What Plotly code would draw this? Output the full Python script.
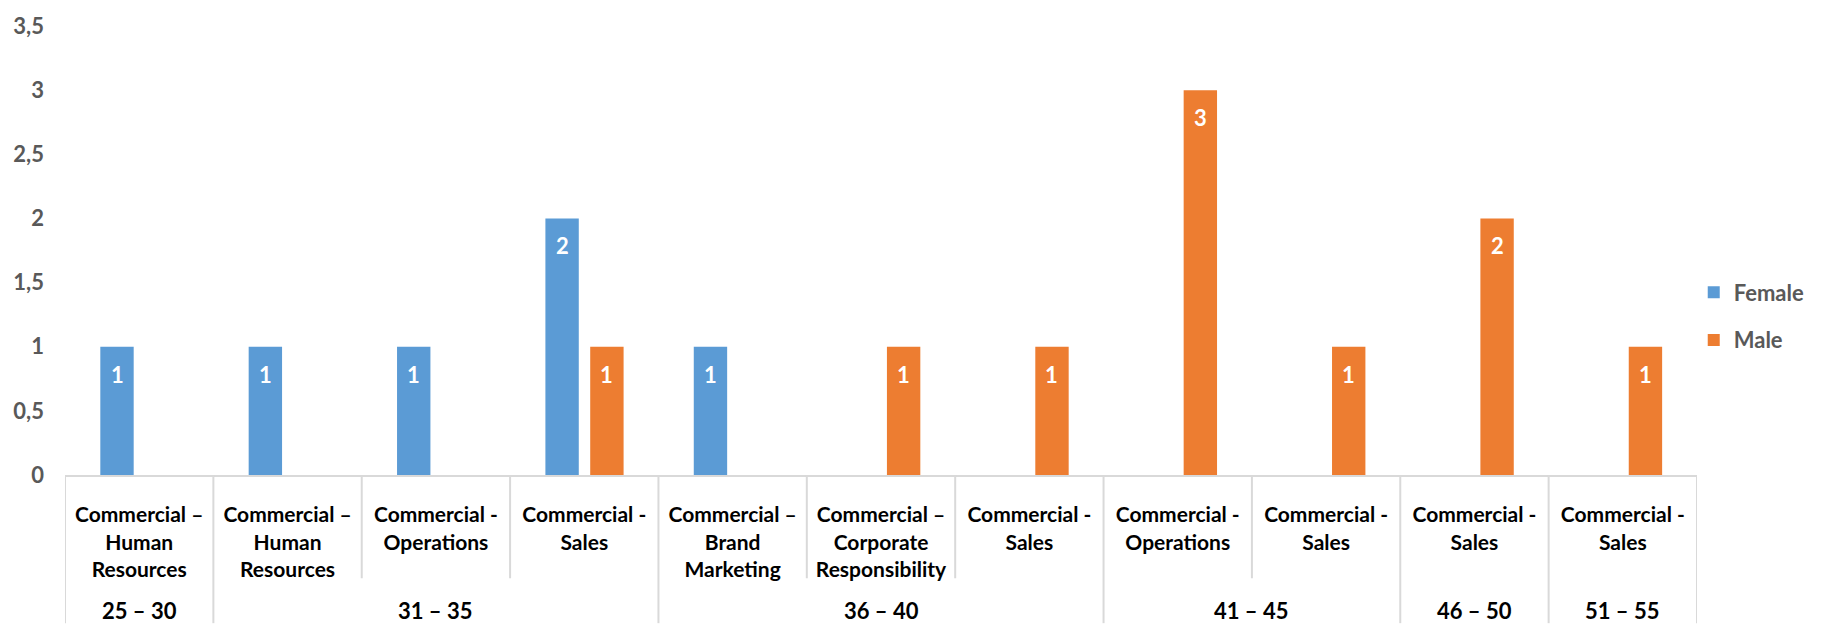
import plotly.graph_objects as go

# Job categories (inner axis level) and the age band each belongs to
departments = [
    "Commercial –<br>Human<br>Resources",
    "Commercial –<br>Human<br>Resources",
    "Commercial -<br>Operations",
    "Commercial -<br>Sales",
    "Commercial –<br>Brand<br>Marketing",
    "Commercial –<br>Corporate<br>Responsibility",
    "Commercial -<br>Sales",
    "Commercial -<br>Operations",
    "Commercial -<br>Sales",
    "Commercial -<br>Sales",
    "Commercial -<br>Sales",
]
age_groups = ["25 – 30", "31 – 35", "36 – 40", "41 – 45", "46 – 50", "51 – 55"]
age_group_sizes = [1, 3, 3, 2, 1, 1]

female = [1, 1, 1, 2, 1, None, None, None, None, None, None]
male = [None, None, None, 1, None, 1, 1, 3, 1, 2, 1]

y_ticks = [0, 0.5, 1, 1.5, 2, 2.5, 3, 3.5]

BLUE = "#5B9BD5"
ORANGE = "#ED7D31"
GRID = "#D9D9D9"
FONT = "Lato"

positions = list(range(len(departments)))
bar_w = 0.225
series = [
    ("Female", female, BLUE, -0.262),
    ("Male", male, ORANGE, 0.04),
]

fig = go.Figure()
annotations = []
for name, vals, color, off in series:
    fig.add_trace(go.Bar(
        name=name, x=positions, y=vals,
        width=bar_w, offset=off,
        marker=dict(color=color, line=dict(width=0)),
        legendgroup=name,
    ))
    # value labels just inside the top of each bar
    for xi, v in zip(positions, vals):
        if v is None:
            continue
        annotations.append(dict(
            x=xi + off + bar_w / 2, y=v, xref="x", yref="y",
            text=str(v), showarrow=False, yanchor="top", yshift=-12,
            font=dict(family=FONT, size=22, color="white", weight="bold"),
        ))

# Age band labels centred under their groups
start = 0
group_edges = [-0.5]
for label, n in zip(age_groups, age_group_sizes):
    centre = start + (n - 1) / 2
    annotations.append(dict(
        x=centre, y=-0.302, xref="x", yref="paper", text=label,
        showarrow=False, yanchor="middle",
        font=dict(family=FONT, size=22, color="black", weight="bold"),
    ))
    start += n
    group_edges.append(start - 0.5)

# Divider lines of the category table below the axis
shapes = []
for b in [i - 0.5 for i in range(len(departments) + 1)]:
    y_end = -0.33 if b in group_edges else -0.230
    shapes.append(dict(
        type="line", xref="x", yref="paper", x0=b, x1=b, y0=0, y1=y_end,
        line=dict(color=GRID, width=2),
    ))

fig.update_layout(
    width=1845, height=625,
    margin=dict(l=65, r=148, t=19, b=150),
    plot_bgcolor="white", paper_bgcolor="white",
    barmode="overlay",
    separators=", ",
    showlegend=True,
    legend=dict(
        x=0.998, y=0.353, xanchor="left", yanchor="middle",
        font=dict(family=FONT, size=22, color="#595959", weight="bold"),
        tracegroupgap=16, itemwidth=30,
    ),
    annotations=annotations,
    shapes=shapes,
    xaxis=dict(
        range=[-0.5, len(departments) - 0.5],
        tickmode="array", tickvals=positions, ticktext=departments,
        showgrid=False, zeroline=False,
        showline=True, linecolor=GRID, linewidth=2,
        ticks="", ticklabelstandoff=20,
        tickfont=dict(family=FONT, size=21, color="black", weight="bold"),
        fixedrange=True,
    ),
    yaxis=dict(
        range=[0, 3.5], tickvals=y_ticks,
        showgrid=False, zeroline=False, showline=False,
        ticks="", ticklabelstandoff=20,
        tickfont=dict(family=FONT, size=22, color="#595959", weight="bold"),
        fixedrange=True,
    ),
)

fig.write_html("out.html")
